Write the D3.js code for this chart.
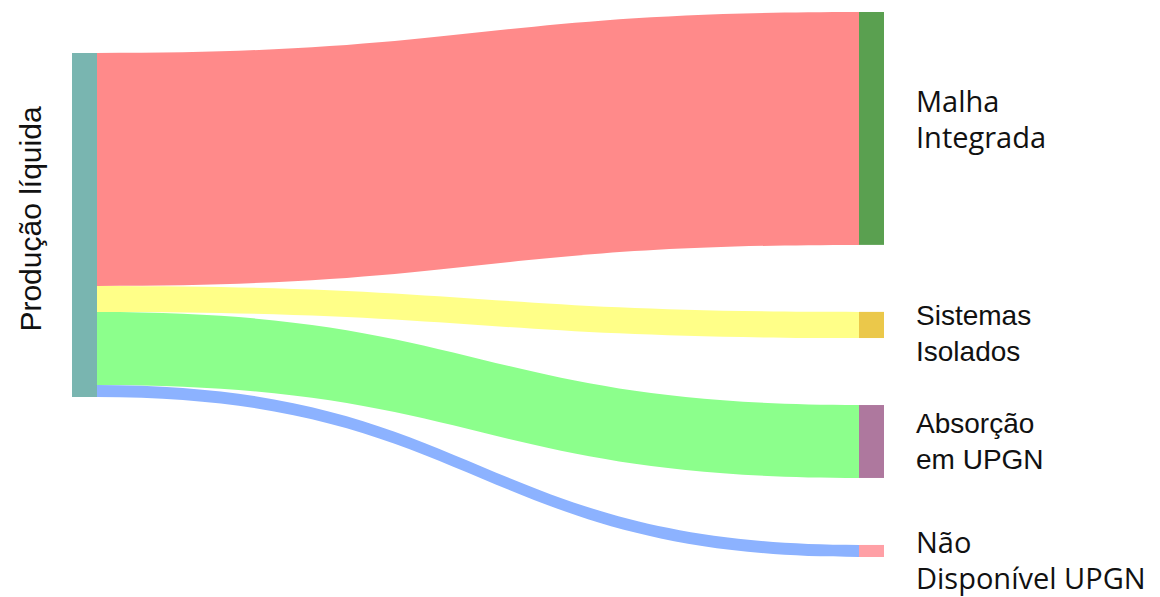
<!DOCTYPE html>
<html>
<head>
<meta charset="utf-8">
<script src="https://cdn.jsdelivr.net/npm/d3@7"></script>
<style>
  body { margin: 0; background: #fff; }
  text { fill: #111; }
</style>
</head>
<body>
<div id="chart"></div>
<script>
// source node + targets, share of the flow (%)
const sourceName = "Produção líquida";
const targetNames = [["Malha", "Integrada"], ["Sistemas", "Isolados"], ["Absorção", "em UPGN"], ["Não", "Disponível UPGN"]];
const flowValues = [67.7, 7.6, 21.2, 3.5];
const linkColors = ["#ff8a8a", "#ffff88", "#8cff8c", "#8cb2ff"];
const targetColors = ["#5aa050", "#ebc84a", "#ae789e", "#ffa0a6"];

const width = 1160, height = 597;
const nodeWidth = 25;
const srcX = 72, tgtX = 859;
const srcTop = 53, tgtTop = 12, gap = 67;

const svg = d3.select("#chart").append("svg")
    .attr("width", width)
    .attr("height", height);

const total = d3.sum(flowValues);
const h = d3.scaleLinear().domain([0, total]).range([0, 344]);

// stack the links on each side
let sy = srcTop, ty = tgtTop;
const links = flowValues.map((v, i) => {
    const l = {i: i, value: v, s0: sy, t0: ty, s1: sy + h(v), t1: ty + h(v)};
    sy += h(v);
    ty += h(v) + gap;
    return l;
});

function ribbon(l) {
    const x0 = srcX + nodeWidth, x1 = tgtX, xm = (x0 + x1) / 2;
    const p = d3.path();
    p.moveTo(x0, l.s0);
    p.bezierCurveTo(xm, l.s0, xm, l.t0, x1, l.t0);
    p.lineTo(x1, l.t1);
    p.bezierCurveTo(xm, l.t1, xm, l.s1, x0, l.s1);
    p.closePath();
    return p.toString();
}

svg.append("g").selectAll("path")
    .data(links)
    .enter()
    .append("path")
        .attr("d", ribbon)
        .attr("fill", (d) => linkColors[d.i]);

// source node
svg.append("rect")
    .attr("x", srcX)
    .attr("y", srcTop)
    .attr("width", nodeWidth)
    .attr("height", h(total))
    .attr("fill", "#79b5b0");

// target nodes
svg.append("g").selectAll("rect")
    .data(links)
    .enter()
    .append("rect")
        .attr("x", tgtX)
        .attr("y", (d) => d.t0)
        .attr("width", nodeWidth)
        .attr("height", (d) => d.t1 - d.t0)
        .attr("fill", (d) => targetColors[d.i]);

// labels (first-line baseline offset from node centre)
const labelShift = [-16.5, 0, -8.5, 2];
const labelFont = ["Open Sans", "Liberation Sans", "Liberation Sans", "Open Sans"];
const labelSize = [29, 28, 28, 29];
const lab = svg.append("g").selectAll("text")
    .data(links)
    .enter()
    .append("text")
        .attr("font-size", (d) => labelSize[d.i] + "px")
        .attr("font-family", (d) => labelFont[d.i])
        .attr("x", 916)
        .attr("y", (d) => (d.t0 + d.t1) / 2 + labelShift[d.i]);
lab.selectAll("tspan")
    .data((d) => targetNames[d.i].map((t, k) => ({t: t, k: k})))
    .enter()
    .append("tspan")
        .attr("x", 916)
        .attr("dy", (d) => d.k === 0 ? 0 : 36.5)
        .text((d) => d.t);

svg.append("text")
    .attr("transform", "translate(41," + 219 + ") rotate(-90)")
    .attr("text-anchor", "middle")
    .attr("font-family", "Liberation Sans")
    .attr("font-size", "30px")
    .text(sourceName);
</script>
</body>
</html>
